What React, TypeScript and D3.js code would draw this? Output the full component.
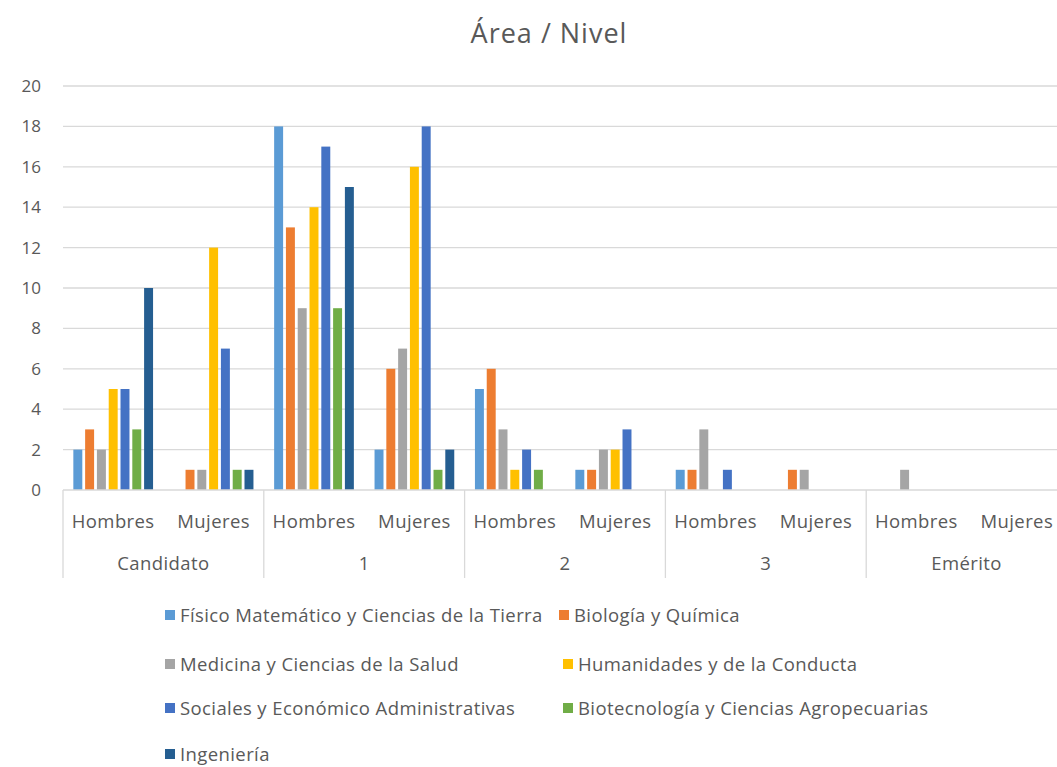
import React from "react";
import * as d3 from "d3";

const levels = ["Candidato", "1", "2", "3", "Emérito"];
const genders = ["Hombres", "Mujeres"];
const series = [
  "Físico Matemático y Ciencias de la Tierra",
  "Biología y Química",
  "Medicina y Ciencias de la Salud",
  "Humanidades y de la Conducta",
  "Sociales y Económico Administrativas",
  "Biotecnología y Ciencias Agropecuarias",
  "Ingeniería",
];
const colors = ["#5B9BD5", "#ED7D31", "#A5A5A5", "#FFC000", "#4472C4", "#70AD47", "#255E91"];

// values per subcategory (level|gender), one per series in order
const candidatoHombres = [2, 3, 2, 5, 5, 3, 10];
const candidatoMujeres = [0, 1, 1, 12, 7, 1, 1];
const nivel1Hombres = [18, 13, 9, 14, 17, 9, 15];
const nivel1Mujeres = [2, 6, 7, 16, 18, 1, 2];
const nivel2Hombres = [5, 6, 3, 1, 2, 1, 0];
const nivel2Mujeres = [1, 1, 2, 2, 3, 0, 0];
const nivel3Hombres = [1, 1, 3, 0, 1, 0, 0];
const nivel3Mujeres = [0, 1, 1, 0, 0, 0, 0];
const emeritoHombres = [0, 0, 1, 0, 0, 0, 0];
const emeritoMujeres = [0, 0, 0, 0, 0, 0, 0];

const values = [
  candidatoHombres, candidatoMujeres,
  nivel1Hombres, nivel1Mujeres,
  nivel2Hombres, nivel2Mujeres,
  nivel3Hombres, nivel3Mujeres,
  emeritoHombres, emeritoMujeres,
];
const yTicks = [0, 2, 4, 6, 8, 10, 12, 14, 16, 18, 20];

const W = 1057;
const H = 767;
const left = 63;
const right = 1067;
const y0 = 490;
const yTop = 86;
const textColor = "#595959";
const gridColor = "#D9D9D9";
const font = "'Open Sans', sans-serif";

export default function App() {
  const subcats = levels.flatMap((l) => genders.map((g) => `${l}|${g}`));
  const x0 = d3.scaleBand<string>().domain(subcats).range([left, right]).padding(0);
  const bw = x0.bandwidth();
  const x1 = d3
    .scaleBand<number>()
    .domain(series.map((_, i) => i))
    .range([bw * 0.103, bw * 0.897])
    .paddingInner(0.24)
    .paddingOuter(0);
  const y = d3.scaleLinear().domain([0, 20]).range([y0, yTop]);
  const xL = d3.scaleBand<string>().domain(levels).range([left, right]).padding(0);

  const legendRows = [
    [{ i: 0, x: 165 }, { i: 1, x: 559 }],
    [{ i: 2, x: 165 }, { i: 3, x: 563 }],
    [{ i: 4, x: 165 }, { i: 5, x: 563 }],
    [{ i: 6, x: 165 }],
  ];
  const legendY = [615, 664, 708, 754];

  return (
    <svg
      width={W}
      height={H}
      style={{ position: "absolute", left: 0, top: 0, background: "#fff" }}
      fontFamily={font}
    >
      <rect x={0} y={0} width={W} height={H} fill="#fff" />
      <text x={549} y={43} textAnchor="middle" fontSize={27} letterSpacing={1} fill={textColor}>
        Área / Nivel
      </text>
      {yTicks.map((t) => (
        <g key={t}>
          {t > 0 && (
            <line x1={left} x2={right} y1={y(t)} y2={y(t)} stroke={gridColor} strokeWidth={1.3} />
          )}
          <text x={41} y={y(t) + 6} textAnchor="end" fontSize={17} fill={textColor}>
            {t}
          </text>
        </g>
      ))}
      {values.map((vals, ci) => (
        <g key={ci} transform={`translate(${x0(subcats[ci])},0)`}>
          {vals.map((v, si) =>
            v > 0 ? (
              <rect
                key={si}
                x={x1(si)}
                y={y(v)}
                width={x1.bandwidth()}
                height={y(0) - y(v)}
                fill={colors[si]}
              />
            ) : null
          )}
        </g>
      ))}
      <line x1={left} x2={right} y1={y0} y2={y0} stroke={gridColor} strokeWidth={1.3} />
      {levels.map((l) => (
        <line
          key={l}
          x1={xL(l)}
          x2={xL(l)}
          y1={y0}
          y2={578}
          stroke={gridColor}
          strokeWidth={1.3}
        />
      ))}
      <line x1={right} x2={right} y1={y0} y2={578} stroke={gridColor} strokeWidth={1.3} />
      {subcats.map((s) => (
        <text
          key={s}
          x={(x0(s) as number) + bw / 2}
          y={528}
          textAnchor="middle"
          fontSize={18.5}
          letterSpacing={0.4}
          fill={textColor}
        >
          {s.split("|")[1]}
        </text>
      ))}
      {levels.map((l) => (
        <text
          key={l}
          x={(xL(l) as number) + xL.bandwidth() / 2}
          y={570}
          textAnchor="middle"
          fontSize={18.5}
          letterSpacing={0.4}
          fill={textColor}
        >
          {l}
        </text>
      ))}
      {legendRows.map((row, ri) =>
        row.map(({ i, x }) => (
          <g key={i}>
            <rect x={x} y={legendY[ri] - 5} width={10} height={10} fill={colors[i]} />
            <text x={x + 15} y={legendY[ri] + 7} fontSize={18.5} letterSpacing={0.4} fill={textColor}>
              {series[i]}
            </text>
          </g>
        ))
      )}
    </svg>
  );
}
